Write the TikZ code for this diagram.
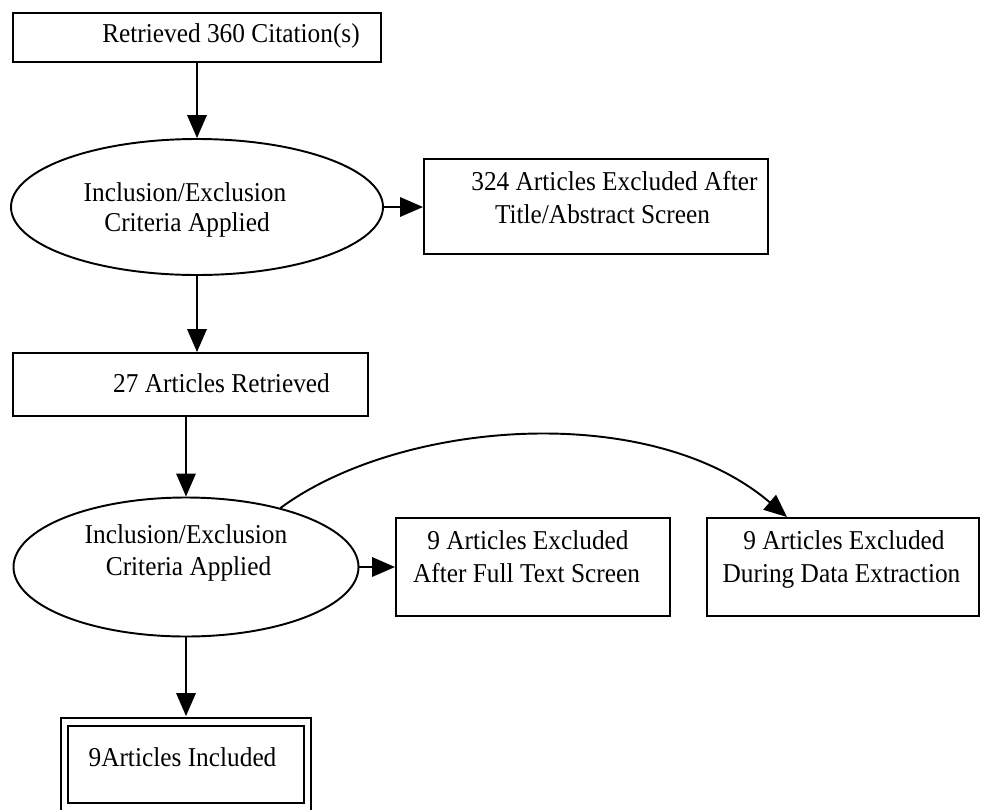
\documentclass[tikz,border=0pt]{standalone}
\usepackage{fontspec}
\setmainfont{Liberation Serif}[FakeStretch=0.93]
\usetikzlibrary{arrows.meta}
\usetikzlibrary{shapes.geometric}
\usetikzlibrary{calc}

\begin{document}
\begin{tikzpicture}[x=0.02cm,y=-0.02cm]
\tikzset{every box/.style={draw=black,line width=1.1pt,rectangle,inner sep=0pt}}
\tikzset{every crit/.style={draw=black,line width=1.1pt,ellipse,inner sep=0pt}}
\tikzset{wh/.style 2 args={minimum width=#1*0.02cm,minimum height=#2*0.02cm}}
\tikzset{every line/.style={anchor=base,inner sep=0pt,font=\fontsize{15.5}{18}\selectfont}}
\tikzset{every link/.style={line width=1.1pt,-{Triangle[length=13pt,width=11pt]}}}

   \useasboundingbox (0,0) rectangle (984,809);

   % shapes
   \node [every box, wh={368}{49}] (cit) at (197,37.5) {};
   \node [every crit, wh={372}{136}] (crit1) at (197,207) {};
   \node [every box, wh={344}{95}] (exttl) at (596,206.5) {};
   \node [every box, wh={355}{63}] (ret) at (190.5,384.5) {};
   \node [every crit, wh={345}{139}] (crit2) at (186,567) {};
   \node [every box, wh={274}{98}] (exfull) at (533,567) {};
   \node [every box, wh={272}{98}] (exdat) at (843,567) {};
   \node [every box, double, double distance=3.4pt, wh={243}{85}] (incl) at (186,764.5) {};

   % texts
   \node [every line] (cit-a) at (231,42) {Retrieved 360 Citation(s)};
   \node [every line] (crit1-a) at (185,201) {Inclusion/Exclusion};
   \node [every line] (crit1-b) at (187,231) {Criteria Applied};
   \node [every line] (exttl-a) at (614.5,190) {324 Articles Excluded After};
   \node [every line] (exttl-b) at (602.5,223) {Title/Abstract Screen};
   \node [every line] (ret-a) at (221.5,392) {27 Articles Retrieved};
   \node [every line] (crit2-a) at (186,543) {Inclusion/Exclusion};
   \node [every line] (crit2-b) at (188.5,575) {Criteria Applied};
   \node [every line] (exfull-a) at (528,549) {9 Articles Excluded};
   \node [every line] (exfull-b) at (526.5,582) {After Full Text Screen};
   \node [every line] (exdat-a) at (844,549) {9 Articles Excluded};
   \node [every line] (exdat-b) at (841.5,582) {During Data Extraction};
   \node [every line] (incl-a) at (182.5,766) {9Articles Included};

   % links
   \draw [every link] (cit.south) -- (crit1.north);
   \draw [every link] (crit1.east) -- (crit1.east -| exttl.west);
   \draw [every link] (crit1.south) -- (crit1.south |- ret.north);
   \draw [every link] (crit2.north |- ret.south) -- (crit2.north);
   \draw [every link] (crit2.east) -- (crit2.east -| exfull.west);
   \draw [every link] (crit2.32) .. controls (400,420) and (650,400) .. ($(exdat.north)+(-56,0)$);
   \draw [every link] (crit2.south) -- ($(crit2.south |- incl.north)+(0,-5)$);
\end{tikzpicture}
\end{document}
